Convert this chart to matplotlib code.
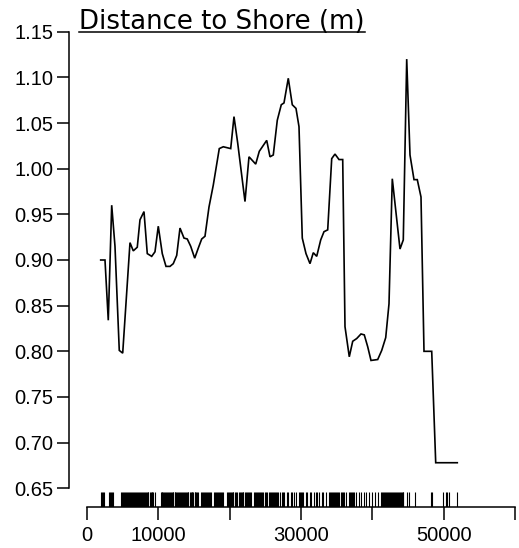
"""Distance to Shore (m): smooth term line + rug, R base-graphics look."""
import matplotlib
matplotlib.use("Agg")
import matplotlib.pyplot as plt
from matplotlib.lines import Line2D
from matplotlib.transforms import blended_transform_factory

# ---- data ----
dist_x = [1960, 2560, 3020, 3500, 3960, 4560, 5040, 6060, 6520, 7080,
          7460, 8020, 8480, 9100, 9560, 10020, 10580, 11100, 11660, 12120,
          12600, 13060, 13620, 14080, 14560, 15120, 15620, 16100, 16560, 17120,
          17720, 18560, 19120, 20160, 20620, 21140, 22160, 22720, 23660, 24160,
          25200, 25660, 26120, 26680, 27240, 27620, 28220, 28780, 29300, 29720,
          30180, 30700, 31260, 31720, 32200, 32760, 33220, 33740, 34300, 34760,
          35320, 35840, 36160, 36760, 37240, 37800, 38400, 38860, 39340, 39800,
          40740, 41300, 41860, 42320, 42780, 43860, 44320, 44800, 45260, 45820,
          46280, 46800, 47220, 48300, 48860, 51880]
effect = [0.900, 0.900, 0.834, 0.960, 0.915, 0.801, 0.798, 0.919, 0.910, 0.914,
          0.944, 0.953, 0.907, 0.904, 0.909, 0.937, 0.907, 0.893, 0.893, 0.896,
          0.905, 0.935, 0.924, 0.923, 0.915, 0.902, 0.913, 0.923, 0.926, 0.958,
          0.982, 1.022, 1.024, 1.022, 1.057, 1.028, 0.964, 1.013, 1.005, 1.019,
          1.031, 1.013, 1.015, 1.053, 1.070, 1.072, 1.099, 1.070, 1.066, 1.046,
          0.924, 0.907, 0.896, 0.908, 0.904, 0.922, 0.931, 0.933, 1.011, 1.016,
          1.010, 1.010, 0.827, 0.794, 0.811, 0.814, 0.819, 0.818, 0.805, 0.790,
          0.791, 0.801, 0.815, 0.852, 0.989, 0.912, 0.922, 1.120, 1.015, 0.988,
          0.988, 0.969, 0.800, 0.800, 0.678, 0.678]

# observed distances (rug)
rug_x = [1960, 2100, 2250, 2420, 3100, 3250, 3420, 3560, 3700,
         4850, 4980, 5100, 5260, 5400, 5520, 5700, 5850, 5960, 6100,
         6230, 6400, 6520, 6650, 6800, 6920, 7050, 7180, 7300, 7450,
         7600, 7720, 7850, 8000, 8120, 8250, 8400, 8530, 8650, 8800,
         8950, 9080, 9200, 9350, 9500,
         10350, 10480, 10600, 10720, 10850, 10980, 11100, 11230, 11380, 11500,
         11620, 11760, 11900, 12020, 12150, 12300, 12420, 12550, 12700, 12830,
         12950, 13080, 13200, 13350, 13480, 13600, 13750, 13880, 14000, 14130,
         14250, 14400, 14550, 14680, 14800, 14950, 15100, 15230, 15350, 15500,
         15650, 16050, 16200, 16320, 16450, 16600, 16750, 16880, 17000, 17150,
         17300, 17420, 17850, 17980, 18100, 18250, 18400, 18550, 18700, 18850,
         19000, 19150,
         19650, 19750, 19880, 20000, 20150, 20300, 20420, 20550, 20700, 20850,
         21000, 21300, 21400, 21550, 21700, 21830, 21950, 22100, 22250, 22400,
         22550, 22700, 22850, 23000, 23400, 23550, 23700, 23850, 24000, 24150,
         24300, 24450, 24600, 24750, 24900, 25050, 25200, 25500, 25650, 25800,
         25950, 26100, 26250, 26400, 26550, 26700, 26850, 27000,
         27310, 27460, 27620, 28000, 28180, 28550, 28700, 29010, 29250, 29710,
         29860, 30020, 30180, 30330, 30650, 30890, 31250, 31400, 31810, 32050,
         32290, 32510, 32900, 33120, 33450, 33910, 34060, 34200, 34350, 34500,
         34650, 34800, 34940, 35090, 35240, 35390, 35540, 35690, 35840, 35990,
         36240, 36700, 36850, 37000, 37160, 37320, 37480, 37640, 38100, 38430,
         38800, 39040, 39500, 39970,
         40390, 40850, 41170, 41300, 41440, 41570, 41710, 41840, 41980, 42120,
         42260, 42400, 42540, 42680, 42820, 42960, 43100, 43240, 43380, 43520,
         43660, 43800, 43940, 44080, 44220, 44350, 44810, 45190, 45980,
         48220, 48380, 49840, 50310, 50500, 50780, 51900]

x_ticks = [0, 10000, 20000, 30000, 40000, 50000, 60000]
x_labels = ["0", "10000", "", "30000", "", "50000", ""]
y_ticks = [0.65, 0.70, 0.75, 0.80, 0.85, 0.90, 0.95, 1.00, 1.05, 1.10, 1.15]

W, H = 519, 548
fig = plt.figure(figsize=(W / 100, H / 100), dpi=100)
ax = fig.add_axes([69.3 / W, 41.3 / H, 448.7 / W, 486.7 / H])

ax.plot(dist_x, effect, color="black", lw=1.2, solid_joinstyle="miter")

# rug along the bottom of the plot region
trans = blended_transform_factory(ax.transData, ax.transAxes)
ax.vlines(rug_x, 0, 15 / 486.7, transform=trans, color="black", lw=0.8)

ax.set_xlim(-2436, 60380)
ax.set_ylim(0.62985, 1.16281)

for s in ("top", "right"):
    ax.spines[s].set_visible(False)
ax.spines["left"].set_bounds(0.65, 1.15)
ax.spines["bottom"].set_bounds(0, 60000)
for s in ("left", "bottom"):
    ax.spines[s].set_linewidth(1.1)

tick_font = {"family": "Liberation Sans", "size": 14.5}
ax.set_xticks(x_ticks)
ax.set_xticklabels(x_labels, fontdict=tick_font)
ax.set_yticks(y_ticks)
ax.set_yticklabels([f"{v:.2f}" for v in y_ticks], fontdict=tick_font)
ax.tick_params(axis="both", direction="out", length=9, width=1.1, colors="black")
ax.tick_params(axis="y", pad=2.4)
ax.tick_params(axis="x", pad=4.8)

# underlined title
tx, base = 79, H - 29
title = fig.text(tx / W, base / H, "Distance to Shore (m)", family="DejaVu Sans",
                 size=18.7, va="baseline", ha="left")
fig.canvas.draw()
bb = title.get_window_extent()
uy = (base - 2.7) / H
fig.add_artist(Line2D([bb.x0 / W, bb.x1 / W], [uy, uy], transform=fig.transFigure,
                      color="black", lw=1.1))

fig.savefig("out.png", dpi=100)
